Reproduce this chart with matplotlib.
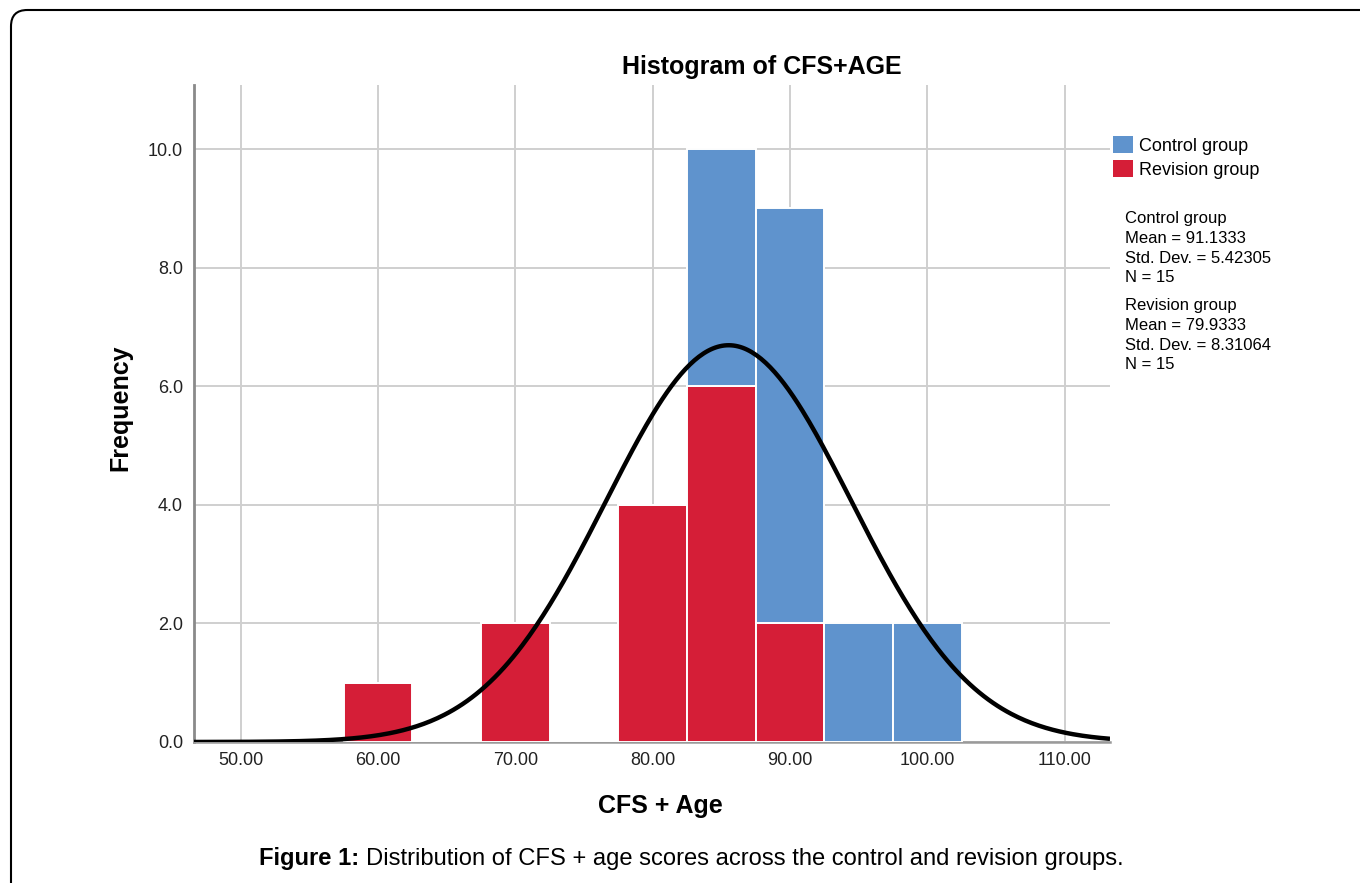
import numpy as np
import matplotlib
matplotlib.use("Agg")
import matplotlib.pyplot as plt
from matplotlib.patches import Patch, FancyBboxPatch

plt.rcParams['font.family'] = ['Liberation Sans', 'DejaVu Sans']

# ---- data ----
bin_centers = [60, 65, 70, 75, 80, 85, 90, 95, 100]
revision_counts = [1, 0, 2, 0, 4, 6, 2, 0, 0]
control_counts = [0, 0, 0, 0, 0, 4, 7, 2, 2]
bin_width = 5
group_names = ["Control group", "Revision group"]
group_means = [91.1333, 79.9333]
group_sds = [5.42305, 8.31064]
group_ns = [15, 15]
x_ticks = [50, 60, 70, 80, 90, 100, 110]
y_ticks = [0, 2, 4, 6, 8, 10]

BLUE = "#5F93CD"
RED = "#D51E37"

W, H = 1360, 883
fig = plt.figure(figsize=(W / 100, H / 100), dpi=100)
ax = fig.add_axes([194 / W, 1 - 742 / H, (1110 - 194) / W, (742 - 85) / H])

# stacked histogram bars
ax.bar(bin_centers, revision_counts, width=bin_width, color=RED,
       edgecolor="white", linewidth=1.4, zorder=3)
ax.bar(bin_centers, control_counts, width=bin_width, bottom=revision_counts,
       color=BLUE, edgecolor="white", linewidth=1.4, zorder=3)

xmin, xmax = 46.6, 113.3
ax.set_xlim(xmin, xmax)
ax.set_ylim(0, 11.08)

# overall normal curve from group statistics
N = sum(group_ns)
mean_all = sum(m * n for m, n in zip(group_means, group_ns)) / N
ss = sum((n - 1) * s ** 2 + n * (m - mean_all) ** 2
         for m, s, n in zip(group_means, group_sds, group_ns))
sd_all = np.sqrt(ss / (N - 1))
xs = np.linspace(xmin, xmax, 400)
ys = N * bin_width * np.exp(-0.5 * ((xs - mean_all) / sd_all) ** 2) / (sd_all * np.sqrt(2 * np.pi))
ax.plot(xs, ys, color="black", lw=3.2, zorder=5, solid_capstyle="butt")

ax.set_xticks(x_ticks)
ax.set_xticklabels([f"{v:.2f}" for v in x_ticks])
ax.set_yticks(y_ticks)
ax.set_yticklabels([f"{v:.1f}" for v in y_ticks])
ax.tick_params(axis="both", length=0, labelsize=13, colors="#222222")
ax.tick_params(axis="x", pad=7)
ax.tick_params(axis="y", pad=8)
ax.grid(True, color="#CFCFCF", lw=1.4, zorder=0)
ax.set_axisbelow(True)
for s in ["top", "right"]:
    ax.spines[s].set_visible(False)
ax.spines["left"].set_color("#8A8A8A")
ax.spines["left"].set_linewidth(2.0)
ax.spines["bottom"].set_color("#9A9A9A")
ax.spines["bottom"].set_linewidth(1.8)

# titles and labels
fig.text(762 / W, 1 - 67 / H, "Histogram of CFS+AGE", ha="center", va="center",
         fontsize=18, fontweight="bold")
fig.text(120 / W, 1 - 408 / H, "Frequency", ha="center", va="center",
         rotation=90, fontsize=18, fontweight="bold")
fig.text(660 / W, 1 - 806 / H, "CFS + Age", ha="center", va="center",
         fontsize=18, fontweight="bold")

# legend
handles = [Patch(facecolor=BLUE, edgecolor="none"), Patch(facecolor=RED, edgecolor="none")]
fig.legend(handles, group_names, loc="upper left",
           bbox_to_anchor=(1113 / W, 1 - 136 / H), frameon=False, fontsize=13,
           handlelength=1.1, handleheight=1.05, handletextpad=0.35,
           labelspacing=0.33, borderpad=0, borderaxespad=0)

# statistics text
for i, (name, m, s, n) in enumerate(zip(group_names, group_means, group_sds, group_ns)):
    txt = f"{name}\nMean = {m:.4f}\nStd. Dev. = {s:.5f}\nN = {n}"
    fig.text(1125 / W, 1 - (211 + i * 87) / H, txt, ha="left", va="top",
             fontsize=12, linespacing=1.40)

# caption
fig.canvas.draw()
renderer = fig.canvas.get_renderer()
cap_bold = "Figure 1: "
cap_rest = "Distribution of CFS + age scores across the control and revision groups."
t1 = fig.text(0, 1 - 859 / H, cap_bold, fontsize=17.1, fontweight="bold", va="center")
t2 = fig.text(0, 1 - 859 / H, cap_rest, fontsize=17.1, va="center")
w1 = t1.get_window_extent(renderer).width
w2 = t2.get_window_extent(renderer).width
start = 691 - (w1 + w2) / 2
t1.set_x(start / W)
t2.set_x((start + w1) / W)

# frame
frame = FancyBboxPatch((11 / W, -0.2), 1.5, 1.2 - 10 / H,
                       boxstyle="round,pad=0,rounding_size=0.012",
                       transform=fig.transFigure, facecolor="none",
                       edgecolor="black", lw=1.5, mutation_aspect=W / H)
fig.patches.append(frame)

fig.savefig("out.png", dpi=100)
